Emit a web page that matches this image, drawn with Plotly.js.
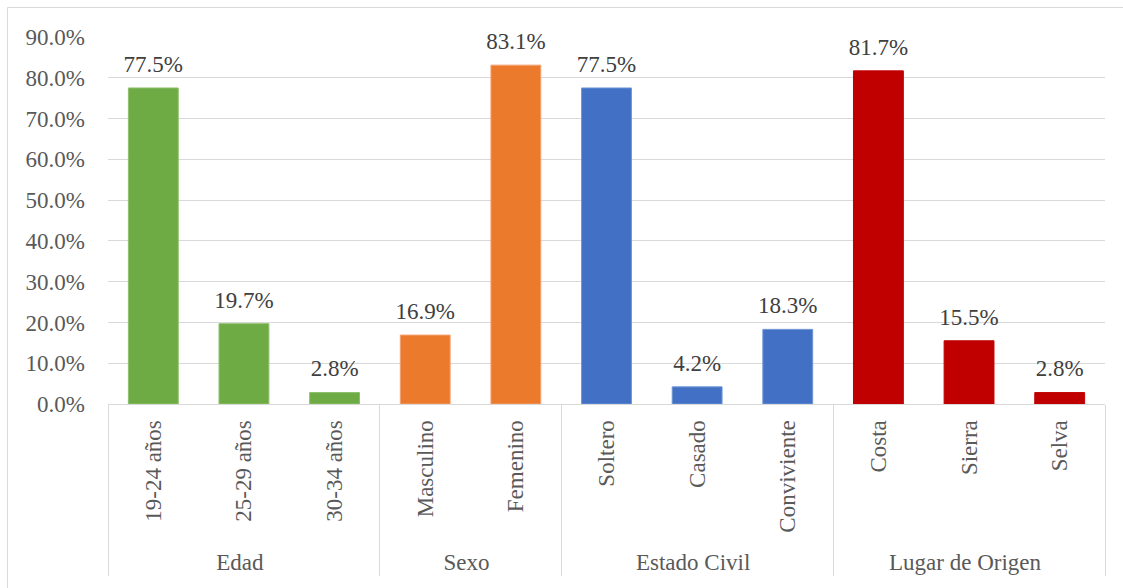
<!DOCTYPE html>
<html>
<head>
<meta charset="utf-8">
<script src="https://cdn.plot.ly/plotly-3.0.1.min.js"></script>
<style>
  html, body { margin: 0; padding: 0; background: #ffffff; }
  #chart { width: 1123px; height: 588px; }
</style>
</head>
<body>
<div id="chart"></div>
<script>
// Data
var groups = ["Edad", "Edad", "Edad", "Sexo", "Sexo", "Estado Civil", "Estado Civil", "Estado Civil", "Lugar de Origen", "Lugar de Origen", "Lugar de Origen"];
var categories = ["19-24 años", "25-29 años", "30-34 años", "Masculino", "Femenino", "Soltero", "Casado", "Conviviente", "Costa", "Sierra", "Selva"];
var values = [0.775, 0.197, 0.028, 0.169, 0.831, 0.775, 0.042, 0.183, 0.817, 0.155, 0.028];
var barColors = ["#6fab45", "#6fab45", "#6fab45", "#ec7a2c", "#ec7a2c", "#4170c4", "#4170c4", "#4170c4", "#c00000", "#c00000", "#c00000"];
var edgeColors = ["#8cc06b", "#8cc06b", "#8cc06b", "#f3a071", "#f3a071", "#6f95d6", "#6f95d6", "#6f95d6", "#c00000", "#c00000", "#c00000"];

var FONT = "Liberation Serif";

var bars = {
  type: "bar",
  x: [groups, categories],
  y: values,
  marker: { color: barColors, line: { color: edgeColors, width: 1 } },
  hoverinfo: "skip",
  showlegend: false
};

var labels = {
  type: "scatter",
  mode: "markers+text",
  x: [groups, categories],
  y: values,
  text: values.map(function (v) { return (v * 100).toFixed(1) + "%"; }),
  textposition: "top center",
  textfont: { family: FONT, size: 23, color: "#404040" },
  marker: { size: 15, color: "rgba(0,0,0,0)" },
  cliponaxis: false,
  hoverinfo: "skip",
  showlegend: false
};

var layout = {
  width: 1123,
  height: 588,
  margin: { l: 108, r: 18, t: 37, b: 184 },
  paper_bgcolor: "#ffffff",
  plot_bgcolor: "#ffffff",
  bargap: 0.45,
  font: { family: FONT, size: 23, color: "#595959" },
  xaxis: {
    type: "multicategory",
    range: [-0.5, categories.length - 0.5],
    autorange: false,
    tickangle: -90,
    tickfont: { family: FONT, size: 23, color: "#595959" },
    ticklabelstandoff: 6,
    showline: true,
    linecolor: "#d9d9d9",
    linewidth: 1,
    showgrid: false,
    showdividers: true,
    dividercolor: "#d9d9d9",
    dividerwidth: 1,
    ticks: "",
    zeroline: false,
    fixedrange: true
  },
  yaxis: {
    range: [0, 0.9],
    autorange: false,
    dtick: 0.1,
    tick0: 0,
    tickformat: ".1%",
    showgrid: true,
    gridcolor: "#d9d9d9",
    gridwidth: 1,
    zeroline: false,
    showline: false,
    ticks: "",
    ticklabelstandoff: 22,
    tickfont: { family: FONT, size: 23, color: "#595959" },
    fixedrange: true
  },
  shapes: [{
    type: "rect",
    xref: "paper", yref: "paper",
    x0: (7.5 - 108) / 997, x1: (1135 - 108) / 997,
    y0: (404 - 600) / 367, y1: (404 - 7.5) / 367,
    line: { color: "#d9d9d9", width: 1 },
    fillcolor: "rgba(0,0,0,0)",
    layer: "below"
  }]
};

Plotly.newPlot("chart", [bars, labels], layout, { displayModeBar: false, staticPlot: true });
</script>
</body>
</html>
